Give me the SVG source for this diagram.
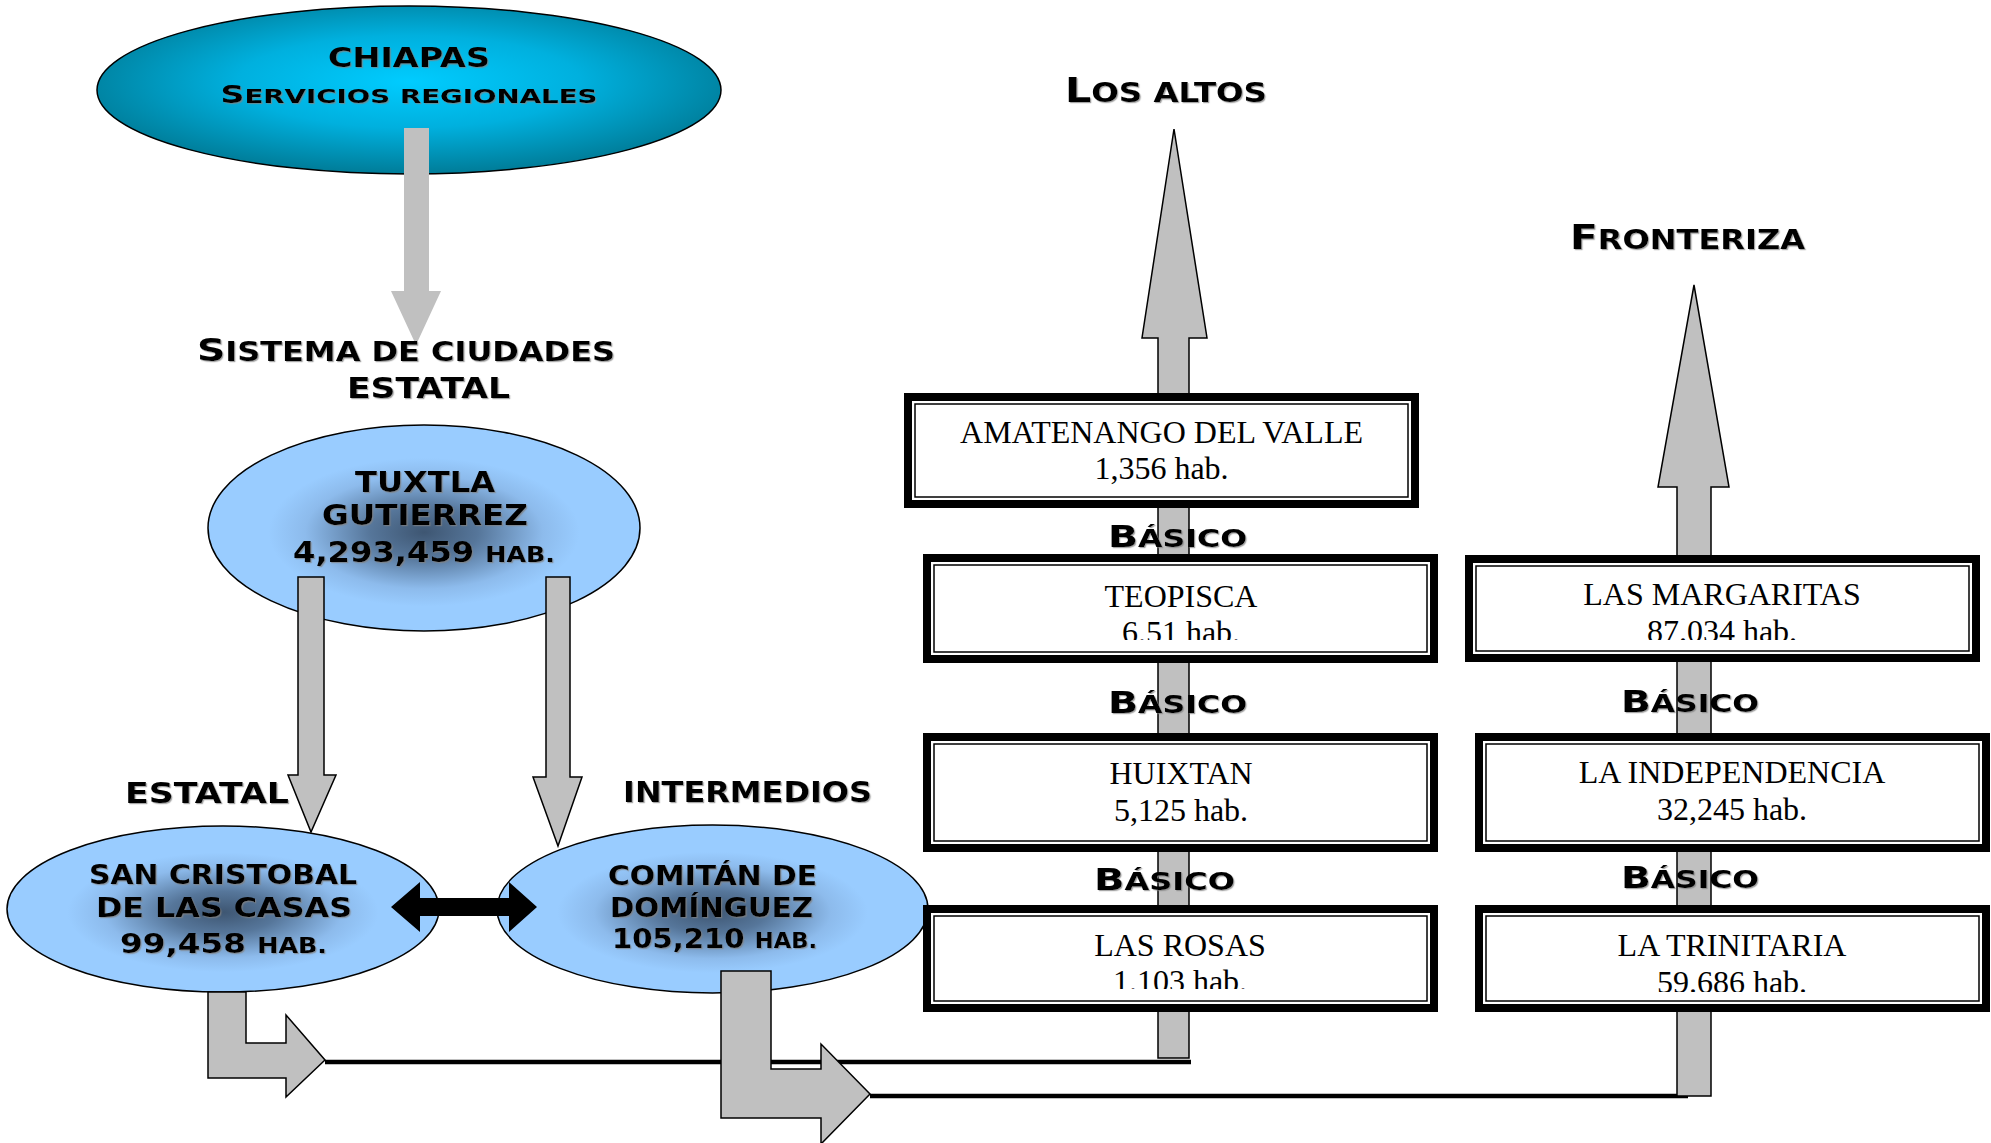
<svg xmlns="http://www.w3.org/2000/svg" width="1991" height="1143" viewBox="0 0 1991 1143">
<defs>
<style>
.cp{font-family:"DejaVu Sans","Liberation Sans",sans-serif;font-weight:bold;fill:#000;text-anchor:middle}
.u{text-transform:uppercase}
.tm{font-family:"Liberation Serif","Times New Roman",serif;font-size:32px;fill:#000;text-anchor:middle}
.gray{fill:#C0C0C0;stroke:#000;stroke-width:1.5;stroke-linejoin:miter}
.frame{fill:#fff;stroke:#000;stroke-width:8}
.thin{fill:none;stroke:#000;stroke-width:1.5}
.ln{stroke:#000;stroke-width:4.5;fill:none}
.ell{stroke:#000;stroke-width:1.5}
</style>
<filter id="sh" x="-10%" y="-30%" width="120%" height="160%">
<feDropShadow dx="1.2" dy="1.2" stdDeviation="0.6" flood-color="#808080" flood-opacity="0.7"/>
</filter>
<radialGradient id="gTeal" cx="0.5" cy="0.45" r="0.55">
<stop offset="0" stop-color="#00CCFF"/>
<stop offset="0.5" stop-color="#00B0DE"/>
<stop offset="1" stop-color="#007C98"/>
</radialGradient>
<radialGradient id="gBlue" cx="0.5" cy="0.52" r="0.5">
<stop offset="0" stop-color="#3E5672"/>
<stop offset="0.25" stop-color="#56769A"/>
<stop offset="0.55" stop-color="#8DBBEC"/>
<stop offset="0.72" stop-color="#99CCFF"/>
<stop offset="1" stop-color="#99CCFF"/>
</radialGradient>
<clipPath id="cTeo"><rect x="923" y="554" width="515" height="86"/></clipPath>
<clipPath id="cRos"><rect x="923" y="905" width="515" height="84"/></clipPath>
<clipPath id="cMar"><rect x="1465" y="555" width="515" height="85"/></clipPath>
<clipPath id="cTri"><rect x="1475" y="905" width="515" height="87"/></clipPath>
</defs>

<rect x="0" y="0" width="1991" height="1143" fill="#fff"/>

<!-- ellipse nodes -->
<g id="chiapas">
<ellipse class="ell" cx="409" cy="90" rx="312" ry="84" fill="url(#gTeal)"/>
<text class="cp" x="409" y="67" font-size="27" textLength="162" lengthAdjust="spacingAndGlyphs" filter="url(#sh)">CHIAPAS</text>
<text class="cp" x="409" y="103" font-size="24" textLength="377" lengthAdjust="spacingAndGlyphs" filter="url(#sh)">S<tspan class="u" font-size="20">ervicios regionales</tspan></text>
</g>

<g id="tuxtla">
<ellipse class="ell" cx="424" cy="528" rx="216" ry="103" fill="url(#gBlue)"/>
<text class="cp" x="425" y="492" font-size="28" textLength="140" lengthAdjust="spacingAndGlyphs" filter="url(#sh)">TUXTLA</text>
<text class="cp" x="425" y="525" font-size="28" textLength="206" lengthAdjust="spacingAndGlyphs" filter="url(#sh)">GUTIERREZ</text>
<text class="cp" x="424" y="562" font-size="28" textLength="262" lengthAdjust="spacingAndGlyphs" filter="url(#sh)">4,293,459 <tspan class="u" font-size="22">hab.</tspan></text>
</g>

<g id="san-cristobal">
<ellipse class="ell" cx="223" cy="909" rx="216" ry="83" fill="url(#gBlue)"/>
<text class="cp" x="223" y="884" font-size="26" textLength="268" lengthAdjust="spacingAndGlyphs" filter="url(#sh)">SAN CRISTOBAL</text>
<text class="cp" x="224" y="917" font-size="26" textLength="256" lengthAdjust="spacingAndGlyphs" filter="url(#sh)">DE LAS CASAS</text>
<text class="cp" x="223.5" y="953" font-size="27" textLength="207" lengthAdjust="spacingAndGlyphs" filter="url(#sh)">99,458 <tspan class="u" font-size="21">hab.</tspan></text>
</g>

<g id="comitan">
<ellipse class="ell" cx="712.5" cy="909" rx="215.5" ry="84" fill="url(#gBlue)"/>
<text class="cp" x="712.5" y="885" font-size="26" textLength="209" lengthAdjust="spacingAndGlyphs" filter="url(#sh)">COMITÁN DE</text>
<text class="cp" x="711.5" y="917" font-size="26" textLength="203" lengthAdjust="spacingAndGlyphs" filter="url(#sh)">DOMÍNGUEZ</text>
<text class="cp" x="714.5" y="948" font-size="27" textLength="205" lengthAdjust="spacingAndGlyphs" filter="url(#sh)">105,210 <tspan class="u" font-size="21">hab.</tspan></text>
</g>

<!-- connectors -->
<g id="connectors">
<line class="ln" x1="325" y1="1062" x2="1191" y2="1062"/>
<line class="ln" x1="870" y1="1096" x2="1688" y2="1096"/>
<polygon points="404,128 429,128 429,291 441,291 416,345 391,291 404,291" fill="#C0C0C0"/>
<polygon class="gray" points="298,577 324,577 324,775 336,775 311,832 288,775 298,775"/>
<polygon class="gray" points="546,577 570,577 570,777 582,777 558,846 533,777 546,777"/>
<polygon points="391,907 420,882 420,898 509,898 509,882 537,907 509,932 509,916 420,916 420,932" fill="#000"/>
<polygon class="gray" points="208,992 246,992 246,1043 286,1043 286,1015 325,1060 286,1097 286,1078 208,1078"/>
<polygon class="gray" points="721,971 771,971 771,1069 821,1069 821,1044 870,1094 821,1144 821,1118 721,1118"/>
<polygon class="gray" points="1174,129 1207,338 1189,338 1189,1058 1158,1058 1158,338 1142,338"/>
<polygon class="gray" points="1694,285 1729,487 1711,487 1711,1096 1677,1096 1677,487 1658,487"/>
</g>

<!-- box nodes -->
<g id="amatenango">
<rect class="frame" x="908" y="397" width="507" height="107"/>
<rect class="thin" x="915" y="404" width="493" height="93"/>
<text class="tm" x="1161.5" y="443">AMATENANGO DEL VALLE</text>
<text class="tm" x="1161.5" y="479">1,356 hab.</text>
</g>
<g id="teopisca">
<rect class="frame" x="927" y="558" width="507" height="101"/>
<rect class="thin" x="934" y="565" width="493" height="87"/>
<g clip-path="url(#cTeo)">
<text class="tm" x="1181" y="607">TEOPISCA</text>
<text class="tm" x="1181" y="643">6.51 hab.</text>
</g>
</g>
<g id="huixtan">
<rect class="frame" x="927" y="737" width="507" height="111"/>
<rect class="thin" x="934" y="744" width="493" height="97"/>
<text class="tm" x="1181" y="784">HUIXTAN</text>
<text class="tm" x="1181" y="821">5,125 hab.</text>
</g>
<g id="las-rosas">
<rect class="frame" x="927" y="909" width="507" height="99"/>
<rect class="thin" x="934" y="916" width="493" height="85"/>
<g clip-path="url(#cRos)">
<text class="tm" x="1180" y="956">LAS ROSAS</text>
<text class="tm" x="1180" y="992">1.103 hab.</text>
</g>
</g>
<g id="las-margaritas">
<rect class="frame" x="1469" y="559" width="507" height="99"/>
<rect class="thin" x="1476" y="566" width="493" height="85"/>
<g clip-path="url(#cMar)">
<text class="tm" x="1722" y="605">LAS MARGARITAS</text>
<text class="tm" x="1722" y="642">87.034 hab.</text>
</g>
</g>
<g id="la-independencia">
<rect class="frame" x="1479" y="737" width="507" height="111"/>
<rect class="thin" x="1486" y="744" width="493" height="97"/>
<text class="tm" x="1732" y="783">LA INDEPENDENCIA</text>
<text class="tm" x="1732" y="820">32,245 hab.</text>
</g>
<g id="la-trinitaria">
<rect class="frame" x="1479" y="909" width="507" height="99"/>
<rect class="thin" x="1486" y="916" width="493" height="85"/>
<g clip-path="url(#cTri)">
<text class="tm" x="1732" y="956">LA TRINITARIA</text>
<text class="tm" x="1732" y="993">59.686 hab.</text>
</g>
</g>

<!-- labels -->
<g id="labels">
<text class="cp" x="406" y="361" font-size="32" textLength="418" lengthAdjust="spacingAndGlyphs" filter="url(#sh)">S<tspan class="u" font-size="26">istema de ciudades</tspan></text>
<text class="cp" x="428.5" y="398" font-size="28" textLength="163" lengthAdjust="spacingAndGlyphs" filter="url(#sh)">ESTATAL</text>
<text class="cp" x="207" y="803" font-size="28" textLength="164" lengthAdjust="spacingAndGlyphs" filter="url(#sh)">ESTATAL</text>
<text class="cp" x="747.5" y="802" font-size="28" textLength="249" lengthAdjust="spacingAndGlyphs" filter="url(#sh)">INTERMEDIOS</text>
<text class="cp" x="1166" y="102" font-size="33" textLength="202" lengthAdjust="spacingAndGlyphs" filter="url(#sh)">L<tspan class="u" font-size="26">os altos</tspan></text>
<text class="cp" x="1687.5" y="249" font-size="33" textLength="235" lengthAdjust="spacingAndGlyphs" filter="url(#sh)">F<tspan class="u" font-size="26">ronteriza</tspan></text>
<text class="cp" x="1177.5" y="547" font-size="30" textLength="139" lengthAdjust="spacingAndGlyphs" filter="url(#sh)">B<tspan class="u" font-size="24">ásico</tspan></text>
<text class="cp" x="1177.5" y="713" font-size="30" textLength="139" lengthAdjust="spacingAndGlyphs" filter="url(#sh)">B<tspan class="u" font-size="24">ásico</tspan></text>
<text class="cp" x="1164.5" y="890" font-size="30" textLength="141" lengthAdjust="spacingAndGlyphs" filter="url(#sh)">B<tspan class="u" font-size="24">ásico</tspan></text>
<text class="cp" x="1690" y="712" font-size="30" textLength="138" lengthAdjust="spacingAndGlyphs" filter="url(#sh)">B<tspan class="u" font-size="24">ásico</tspan></text>
<text class="cp" x="1690" y="888" font-size="30" textLength="138" lengthAdjust="spacingAndGlyphs" filter="url(#sh)">B<tspan class="u" font-size="24">ásico</tspan></text>
</g>
</svg>
